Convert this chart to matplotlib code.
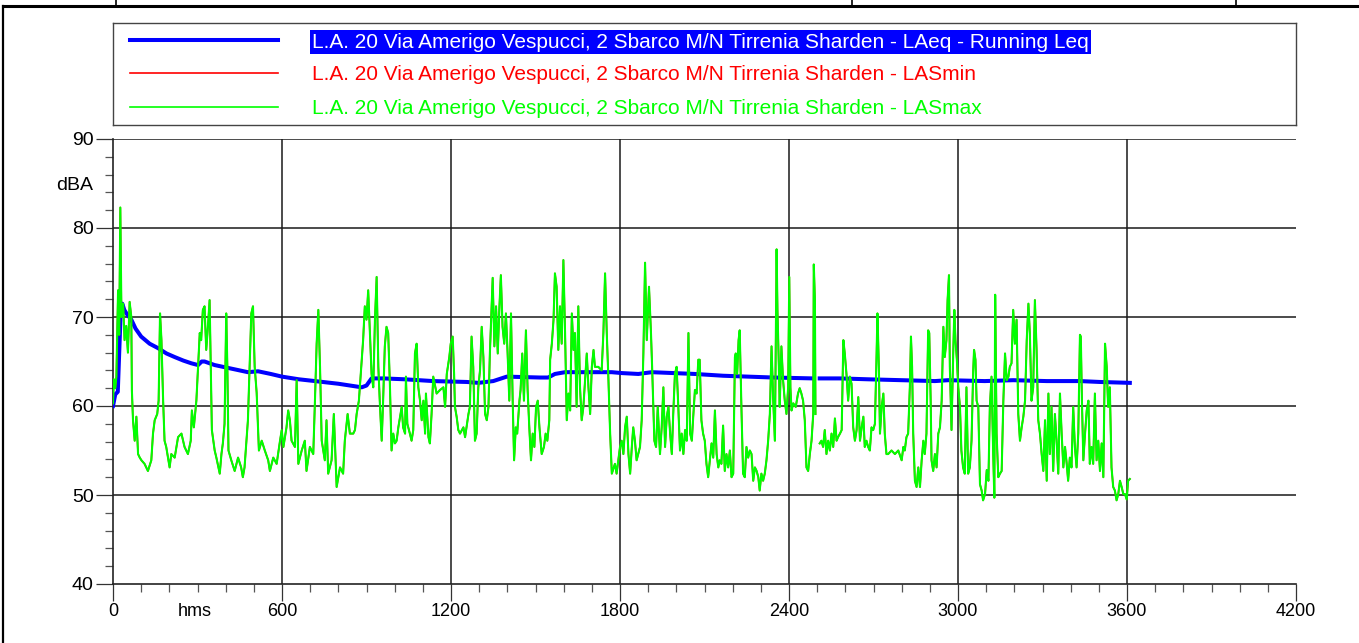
import numpy as np
import matplotlib
matplotlib.use("Agg")
import matplotlib.pyplot as plt
import matplotlib.transforms as mtransforms
from matplotlib.ticker import MultipleLocator
from matplotlib.lines import Line2D

nan = np.nan

# LASmax, seconds from start / dBA
t_s = [
    0, 3, 8, 12, 18, 22, 26, 30, 36, 41,
    47, 53, 59, 65, 67, 71, 77, 83, 89, 95,
    101, 112, 124, 136, 142, 148, 157, 162, 167, 172,
    178, 183, 189, 201, 207, 219, 231, 243, 254, 266,
    276, 280, 287, 296, 302, 308, 313, 319, 325, 331,
    337, 343, 347, 351, 361, 367, 379, 385, 390, 396,
    402, 406, 410, 420, 432, 444, 455, 461, 467, 473,
    479, 485, 491, 497, 503, 510, 518, 528, 539, 551,
    557, 569, 581, 593, 599, 605, 616, 622, 628, 634,
    646, 652, 658, 670, 681, 687, 699, 711, 717, 723,
    729, 735, 741, 752, 758, 764, 776, 784, 794, 806,
    817, 823, 833, 841, 853, 859, 865, 873, 883, 888,
    894, 900, 906, 912, 918, 924, 930, 936, 942, 948,
    954, 959, 965, 971, 977, 983, 989, 995, 1001, 1007,
    1013, 1025, 1030, 1037, 1040, 1045, 1054, 1060, 1066, 1072,
    1078, 1084, 1090, 1096, 1102, 1108, 1111, 1120, 1125, 1131,
    1137, 1149, 1161, 1173, 1179, 1185, 1194, 1199, 1206, 1211,
    1214, 1220, 1226, 1232, 1244, 1250, 1262, 1267, 1273, 1279,
    1285, 1291, 1297, 1303, 1309, 1315, 1321, 1327, 1333, 1338,
    1344, 1348, 1354, 1360, 1366, 1372, 1377, 1383, 1389, 1395,
    1401, 1407, 1413, 1419, 1424, 1430, 1435, 1443, 1447, 1453,
    1459, 1466, 1472, 1478, 1484, 1490, 1496, 1502, 1508, 1514,
    1522, 1530, 1536, 1542, 1549, 1552, 1558, 1564, 1569, 1575,
    1581, 1587, 1593, 1599, 1605, 1611, 1617, 1623, 1629, 1635,
    1640, 1646, 1652, 1658, 1664, 1670, 1676, 1682, 1688, 1694,
    1700, 1706, 1711, 1723, 1735, 1741, 1747, 1753, 1759, 1765,
    1771, 1782, 1788, 1800, 1806, 1812, 1818, 1824, 1830, 1836,
    1842, 1847, 1853, 1859, 1871, 1877, 1883, 1889, 1895, 1903,
    1910, 1914, 1922, 1928, 1934, 1942, 1948, 1954, 1960, 1966,
    1972, 1978, 1984, 1989, 1995, 2001, 2007, 2013, 2019, 2025,
    2031, 2037, 2043, 2049, 2055, 2060, 2066, 2072, 2078, 2083,
    2089, 2095, 2101, 2107, 2113, 2119, 2125, 2131, 2137, 2143,
    2149, 2154, 2160, 2166, 2172, 2178, 2184, 2190, 2196, 2202,
    2208, 2211, 2216, 2221, 2225, 2231, 2237, 2243, 2249, 2255,
    2261, 2267, 2273, 2279, 2285, 2291, 2296, 2302, 2308, 2314,
    2320, 2326, 2332, 2338, 2344, 2350, 2356, 2359, 2364, 2367,
    2373, 2379, 2385, 2391, 2397, 2401, 2405, 2409, 2415, 2424,
    2432, 2438, 2444, 2450, 2456, 2462, 2468, 2474, 2480, 2486,
    2488, 2492, 2494, 2500, 2509, 2515, 2521, 2527, 2533, 2539,
    2545, 2551, 2557, 2563, 2569, 2574, 2581, 2587, 2593, 2598,
    2604, 2610, 2616, 2622, 2628, 2634, 2640, 2646, 2652, 2658,
    2664, 2669, 2675, 2681, 2687, 2693, 2699, 2705, 2711, 2714,
    2719, 2723, 2729, 2735, 2740, 2746, 2752, 2764, 2776, 2788,
    2800, 2806, 2811, 2817, 2823, 2829, 2833, 2837, 2841, 2847,
    2853, 2859, 2865, 2871, 2877, 2882, 2888, 2894, 2898, 2903,
    2906, 2912, 2918, 2924, 2930, 2936, 2942, 2948, 2953, 2959,
    2963, 2968, 2971, 2977, 2983, 2987, 2991, 2996, 3001, 3007,
    3012, 3018, 3024, 3030, 3036, 3042, 3048, 3054, 3057, 3062,
    3066, 3072, 3078, 3084, 3089, 3096, 3102, 3108, 3113, 3119,
    3125, 3129, 3132, 3137, 3143, 3149, 3155, 3161, 3167, 3173,
    3179, 3184, 3190, 3196, 3202, 3208, 3214, 3220, 3226, 3232,
    3238, 3244, 3250, 3255, 3261, 3267, 3273, 3279, 3285, 3291,
    3297, 3303, 3309, 3315, 3321, 3326, 3332, 3338, 3344, 3350,
    3356, 3362, 3368, 3374, 3380, 3386, 3391, 3397, 3403, 3409,
    3415, 3421, 3427, 3433, 3436, 3440, 3445, 3451, 3457, 3463,
    3468, 3474, 3480, 3486, 3492, 3498, 3504, 3510, 3516, 3522,
    3528, 3533, 3539, 3545, 3551, 3557, 3563, 3569, 3575, 3581,
    3587, 3593, 3599, 3604, 3610,
]
las_max = [
    60.3, 63.0, 62.0, 63.3, 73.0, 68.0, 82.3, 70.0, 71.5, 67.4,
    69.0, 66.0, 71.7, 70.0, 61.8, 58.4, 56.1, 58.8, 54.6, 54.2,
    53.9, 53.5, 52.7, 53.9, 56.9, 58.4, 59.1, 60.6, 70.4, 67.4,
    60.6, 56.1, 55.4, 53.1, 54.6, 54.2, 56.5, 56.9, 55.4, 54.6,
    56.1, 59.5, 57.6, 60.6, 64.4, 68.2, 67.4, 70.8, 71.2, 66.3,
    68.9, 71.9, 64.4, 57.3, 55.0, 54.2, 52.4, 54.6, 55.8, 58.0,
    70.4, 64.4, 55.0, 53.9, 52.7, 54.2, 53.1, 52.0, 53.1, 55.8,
    58.4, 64.4, 70.4, 71.2, 64.4, 61.5, 55.0, 56.1, 55.0, 53.9,
    52.7, 54.2, 53.5, 56.1, 57.3, 55.4, 57.6, 59.5, 58.4, 56.1,
    55.4, 62.9, 53.5, 55.0, 56.1, 52.7, 55.4, 54.6, 60.6, 67.0,
    70.8, 64.4, 56.1, 53.9, 58.4, 52.4, 53.9, 59.1, 50.9, 53.1,
    52.4, 56.1, 59.1, 56.9, 56.9, 57.3, 59.1, 60.6, 65.2, 67.4,
    71.2, 69.7, 73.0, 68.2, 63.6, 62.1, 69.7, 74.5, 64.4, 59.9,
    56.1, 60.6, 66.7, 68.9, 68.2, 62.5, 55.0, 56.9, 55.8, 56.1,
    57.6, 59.9, 57.6, 56.9, 63.3, 58.0, 56.9, 56.1, 57.3, 65.9,
    67.0, 62.1, 60.6, 58.4, 60.6, 56.9, 61.4, 56.5, 55.8, 59.1,
    63.3, 61.4, 61.8, 62.1, 59.9, 63.6, 65.5, 67.0, 67.8, 63.6,
    59.9, 58.8, 57.3, 56.9, 57.6, 56.5, 59.1, 59.9, 67.8, 64.4,
    56.1, 56.9, 62.1, 64.0, 68.9, 65.5, 59.1, 58.4, 59.9, 65.9,
    71.2, 74.4, 66.7, 71.2, 65.9, 71.2, 74.7, 68.9, 67.0, 70.4,
    65.9, 60.6, 70.4, 60.6, 53.9, 57.6, 56.9, 60.6, 61.8, 65.9,
    60.6, 68.5, 61.8, 57.6, 53.9, 56.9, 55.4, 59.9, 60.6, 57.6,
    54.6, 55.4, 56.9, 56.1, 58.4, 65.2, 67.0, 69.7, 74.9, 73.4,
    66.3, 71.2, 67.0, 76.4, 68.2, 58.4, 61.4, 59.5, 70.4, 66.3,
    68.2, 59.9, 71.2, 62.1, 58.4, 59.9, 62.9, 65.9, 62.1, 59.1,
    64.4, 66.3, 64.4, 64.4, 64.0, 68.2, 74.9, 68.2, 62.9, 56.9,
    52.4, 53.5, 52.4, 55.4, 56.1, 54.6, 57.6, 58.8, 54.6, 52.4,
    55.4, 57.6, 56.1, 53.9, 55.4, 58.4, 65.9, 76.1, 67.4, 73.4,
    68.2, 64.4, 56.1, 55.4, 59.9, 54.6, 57.6, 62.1, 55.4, 58.8,
    59.9, 56.9, 54.6, 59.1, 63.6, 64.4, 59.9, 55.0, 56.9, 54.6,
    57.3, 56.1, 68.2, 56.9, 56.1, 58.8, 61.8, 61.4, 65.2, 65.2,
    58.4, 56.9, 56.1, 53.5, 52.0, 53.9, 55.8, 54.2, 59.5, 54.6,
    53.1, 53.9, 53.5, 57.8, 52.7, 54.6, 53.1, 55.0, 52.0, 52.4,
    65.5, 65.9, 63.6, 67.4, 68.5, 59.9, 52.4, 52.0, 55.4, 54.2,
    55.0, 54.6, 51.6, 53.1, 52.7, 52.0, 50.5, 52.4, 51.6, 52.4,
    53.9, 56.1, 59.1, 66.7, 60.6, 56.1, 77.6, 70.8, 64.4, 59.9,
    66.7, 62.9, 60.6, 59.1, 62.1, 74.5, 62.1, 59.5, 60.3, 59.9,
    61.4, 62.0, 61.4, 60.6, 58.4, 53.1, 52.7, 54.6, 56.1, 59.1,
    75.9, 71.9, 59.1, nan, 55.8, 56.1, 55.4, 57.3, 54.6, 56.1,
    55.0, 56.9, 55.4, 58.6, 56.1, 56.5, 56.9, 57.3, 67.4, 65.9,
    63.6, 60.6, 63.3, 62.5, 57.6, 56.1, 57.3, 61.0, 56.1, 57.6,
    58.8, 55.4, 56.1, 55.4, 55.0, 57.6, 57.3, 58.0, 65.9, 70.4,
    64.4, 56.9, 59.9, 61.4, 56.9, 54.6, 54.6, 55.0, 54.6, 55.0,
    53.9, 55.4, 55.0, 56.5, 56.9, 62.1, 67.8, 64.4, 56.9, 51.6,
    50.9, 53.1, 50.9, 53.9, 56.1, 54.6, 56.9, 68.5, 68.2, 60.6,
    53.9, 52.7, 54.6, 53.1, 56.9, 57.6, 60.6, 68.9, 65.5, 67.4,
    71.9, 74.7, 64.4, 57.3, 65.9, 70.8, 67.4, 65.2, 62.1, 59.9,
    55.0, 53.1, 52.4, 62.1, 52.4, 53.1, 56.1, 64.0, 66.3, 65.2,
    60.6, 59.9, 51.2, 50.5, 49.4, 50.1, 52.8, 51.6, 59.9, 63.3,
    54.6, 49.7, 72.5, 56.9, 52.0, 52.4, 52.7, 60.6, 65.9, 62.9,
    63.3, 64.4, 64.8, 70.8, 67.0, 69.7, 59.1, 56.1, 57.6, 58.8,
    60.6, 67.4, 71.5, 68.2, 60.6, 62.1, 71.9, 66.3, 58.4, 56.9,
    54.6, 52.7, 58.4, 51.6, 61.4, 54.6, 59.9, 52.7, 59.1, 56.1,
    52.4, 61.4, 56.9, 53.1, 55.4, 53.5, 51.6, 54.2, 53.1, 59.9,
    55.4, 53.1, 56.9, 68.0, 67.8, 60.6, 53.9, 56.9, 59.5, 60.6,
    53.5, 55.4, 53.5, 61.4, 53.9, 56.1, 52.7, 55.8, 52.0, 67.0,
    64.4, 59.9, 62.1, 53.1, 50.9, 50.5, 49.4, 50.1, 51.6, 50.9,
    50.1, 50.1, 49.5, 51.6, 51.8,
]
# the red LASmin trace sits under the green one to within a pixel,
# so the readings are the same
las_min = list(las_max)

# running Leq
leq_t = [
    0, 8, 17, 22, 28, 33, 40, 50, 65, 80,
    100, 130, 160, 190, 219, 250, 278, 302, 315, 325,
    361, 420, 479, 515, 560, 600, 660, 717, 800, 883,
    900, 918, 960, 1036, 1137, 1256, 1297, 1350, 1398, 1516,
    1545, 1569, 1605, 1771, 1806, 1865, 1913, 2066, 2166, 2344,
    2486, 2500, 2509, 2580, 2681, 2800, 2918, 2965, 3095, 3196,
    3315, 3433, 3504, 3610,
]
leq_db = [
    60.0, 61.3, 61.6, 66.0, 71.0, 71.5, 70.8, 70.3, 69.7, 68.7,
    67.8, 67.0, 66.5, 65.9, 65.5, 65.1, 64.8, 64.6, 65.0, 65.0,
    64.6, 64.2, 63.8, 63.9, 63.6, 63.3, 63.0, 62.8, 62.5, 62.1,
    62.3, 63.1, 63.1, 63.0, 62.8, 62.7, 62.6, 62.8, 63.3, 63.2,
    63.2, 63.6, 63.8, 63.8, 63.7, 63.6, 63.8, 63.6, 63.4, 63.2,
    63.1, nan, 63.1, 63.1, 63.0, 62.9, 62.8, 62.9, 62.8, 62.9,
    62.8, 62.8, 62.7, 62.6,
]
assert len(t_s) == len(las_max)
assert len(leq_t) == len(leq_db)

site = "L.A. 20 Via Amerigo Vespucci, 2 Sbarco M/N Tirrenia Sharden"
series_labels = [site + " - LAeq - Running Leq", site + " - LASmin", site + " - LASmax"]
series_colors = ["#0000ff", "#ff0000", "#00ff00"]

x_major = [0, 600, 1200, 1800, 2400, 3000, 3600, 4200]
x_labels = ["0", "600", "1200", "1800", "2400", "3000", "3600", "4200"]
y_major = [40, 50, 60, 70, 80, 90]

plt.rcParams["font.family"] = ["Liberation Sans", "DejaVu Sans"]

W, H = 1359, 643
fig = plt.figure(figsize=(W / 100, H / 100), dpi=100)


def fx(px):
    return px / W


def fy(py):
    return 1 - py / H


ax = fig.add_axes([fx(113), fy(584), fx(1296) - fx(113), fy(139) - fy(584)])

# grid lines (none at the right edge)
for v in x_major[1:-1]:
    ax.axvline(v, color="#1a1a1a", lw=1.1, zorder=1)
for v in y_major[1:]:
    ax.axhline(v, color="#1a1a1a", lw=1.1, zorder=1)

ax.plot(leq_t, leq_db, color=series_colors[0], lw=2.9, zorder=3)
ax.plot(t_s, las_min, color=series_colors[1], lw=1.2, zorder=4)
ax.plot(t_s, las_max, color=series_colors[2], lw=1.5, zorder=5)

ax.set_xlim(0, 4200)
ax.set_ylim(40, 90)
ax.set_xticks(x_major)
ax.set_xticklabels(x_labels)
ax.set_yticks(y_major)
ax.xaxis.set_minor_locator(MultipleLocator(100))
ax.yaxis.set_minor_locator(MultipleLocator(2))
ax.tick_params(which="major", length=12, width=0.9, color="#333333", pad=2)
ax.tick_params(which="minor", length=5.5, width=0.9, color="#555555")
ax.tick_params(axis="x", labelsize=13)
ax.tick_params(axis="y", labelsize=14)
for s in ["top", "right"]:
    ax.spines[s].set_visible(False)
for s in ["left", "bottom"]:
    ax.spines[s].set_color("#222222")
    ax.spines[s].set_linewidth(1.2)

trans = mtransforms.blended_transform_factory(ax.transData, ax.transAxes)
ax.text(291, -19.5 / 445, "hms", transform=trans, ha="center", va="top", fontsize=13)
trans_y = mtransforms.blended_transform_factory(ax.transAxes, ax.transData)
ax.text(-20 / 1183, 84.8, "dBA", transform=trans_y, ha="right", va="center", fontsize=14)

# legend box
lg = fig.add_axes([fx(113), fy(125), fx(1296) - fx(113), fy(23) - fy(125)])
lg.set_xlim(0, 1183)
lg.set_ylim(102, 0)
lg.set_xticks([])
lg.set_yticks([])
for s in lg.spines.values():
    s.set_color("#444444")
    s.set_linewidth(1.0)
rows = [17, 50, 84]
widths = [2.9, 1.2, 1.2]
for i, (lab, col) in enumerate(zip(series_labels, series_colors)):
    lg.plot([17, 165], [rows[i], rows[i]], color=col, lw=widths[i])
    if i == 0:
        lg.text(199, rows[i] + 2, lab, color="white", fontsize=15, va="center",
                bbox=dict(boxstyle="square,pad=0.12", fc=col, ec="none"))
    else:
        lg.text(199, rows[i] + 2, lab, color=col, fontsize=15, va="center")

# page frame around the chart
fig.add_artist(Line2D([fx(3), fx(3)], [fy(6), 0], color="black", lw=1.6))
fig.add_artist(Line2D([fx(3), 1], [fy(6), fy(6)], color="black", lw=2.2))
for xs in [116, 852, 1236]:
    fig.add_artist(Line2D([fx(xs), fx(xs)], [1, fy(6)], color="black", lw=1.2))

fig.savefig("out.png", dpi=100)
